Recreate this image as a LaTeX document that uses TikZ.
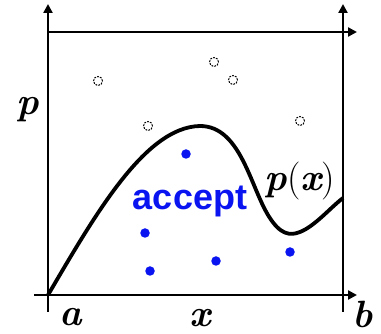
\documentclass[tikz,border=0pt]{standalone}
\usepackage{fontspec}
\usetikzlibrary{arrows.meta}
\newfontfamily\accfont{Liberation Sans}
\definecolor{dotblue}{RGB}{10,20,240}
\newcommand{\bv}[1]{{\bfseries\itshape #1}}
\tikzset{
  axis/.style={line width=2.6pt,-{Triangle[length=9pt,width=9pt]}},
  curve/.style={line width=3.8pt,line join=round},
  rej/.style={circle,draw,dashed,dash pattern=on 1.8pt off 1.2pt,line width=1pt,minimum size=9pt,inner sep=0pt},
  acc/.style={circle,fill=dotblue,minimum size=9.5pt,inner sep=0pt},
  lbl/.style={inner sep=0pt,font=\fontsize{38}{38}\selectfont}
}
\begin{document}
\begin{tikzpicture}[x=1pt,y=-1pt]
\useasboundingbox (0,0) rectangle (381,334);
% axes
\coordinate (lb) at (48,312);
\coordinate (lt) at (48,4);
\coordinate (rb) at (343,312);
\coordinate (rt) at (343,4);
\coordinate (tl) at (48,32);
\coordinate (tr) at (357,32);
\coordinate (bl) at (34,295);
\coordinate (br) at (357,295);
\draw[axis] (lb) -- (lt);
\draw[axis] (rb) -- (rt);
\draw[axis] (tl) -- (tr);
\draw[axis] (bl) -- (br);
% curve
\coordinate (c0) at (48,295);
\coordinate (c1) at (200,126);
\coordinate (c2) at (268,215);
\coordinate (c3) at (300,232);
\coordinate (c4) at (343,198);
\draw[curve] (c0) .. controls (95,215) and (145,127) .. (c1)
  .. controls (240,126) and (250,185) .. (c2)
  .. controls (280,235) and (290,236) .. (c3)
  .. controls (315,226) and (330,208) .. (c4);
% rejected samples
\node[rej] (r1) at (98,81) {};
\node[rej] (r2) at (214,62) {};
\node[rej] (r3) at (233,80) {};
\node[rej] (r4) at (148,126) {};
\node[rej] (r5) at (300,121) {};
% accepted samples
\node[acc] (a1) at (186,154) {};
\node[acc] (a2) at (145,233) {};
\node[acc] (a3) at (150,271) {};
\node[acc] (a4) at (216,261) {};
\node[acc] (a5) at (290,252) {};
% labels
\node[inner sep=0pt,text=dotblue,font=\accfont\bfseries\fontsize{36}{36}\selectfont] (acctxt) at (190,201) {accept};
\node[lbl] (plbl) at (28,110) {\bv{p}};
\node[lbl] (pxlbl) at (300,181) {\bv{p}(\bv{x})};
\node[lbl] (albl) at (71,317) {\bv{a}};
\node[lbl] (xlbl) at (200,318) {\bv{x}};
\node[lbl] (blbl) at (363,314) {\bv{b}};
\end{tikzpicture}
\end{document}
